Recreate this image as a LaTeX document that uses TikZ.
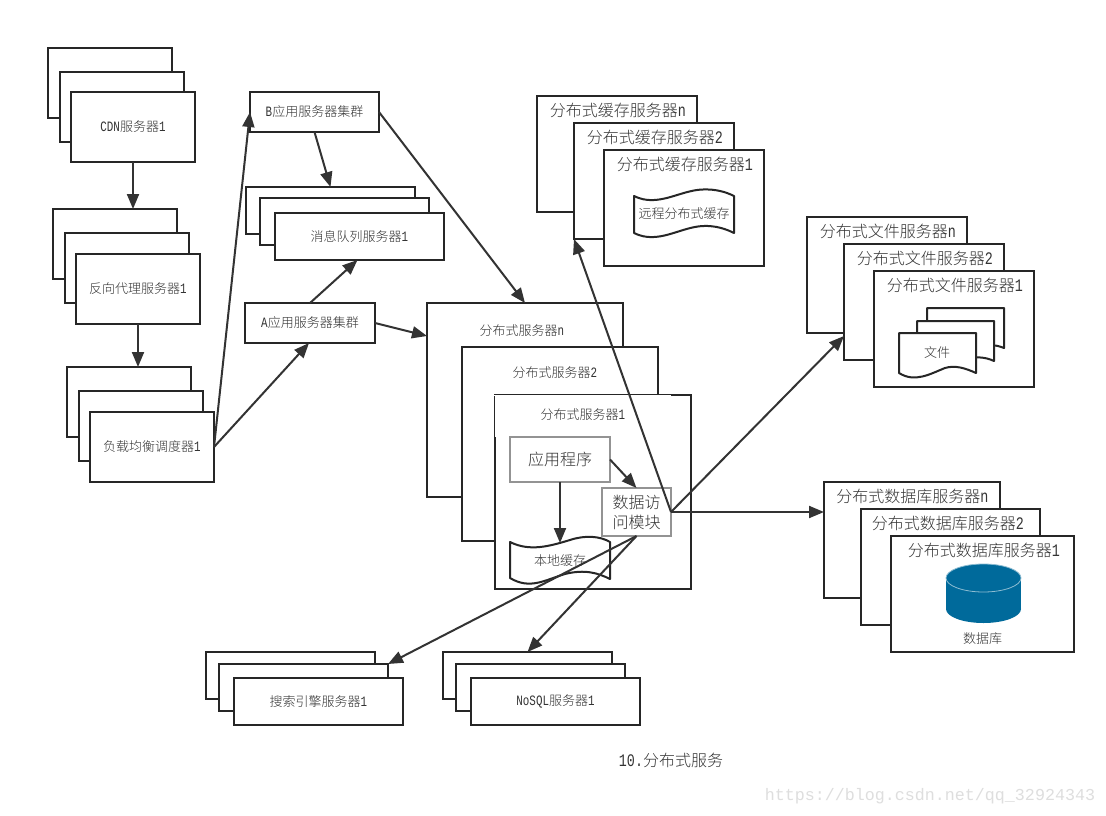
\documentclass[tikz,border=0pt]{standalone}
\usepackage{fontspec}
\usetikzlibrary{arrows.meta,calc}
\setmainfont{Noto Sans CJK SC}[UprightFont={* Light}]
\newfontfamily\lat{Liberation Mono}[Scale=1.1,FakeStretch=0.76]
\newcommand\Lt[1]{{\lat #1}}
\definecolor{ink}{HTML}{262626}
\definecolor{txt}{HTML}{333333}
\definecolor{arr}{HTML}{333333}
\definecolor{dbblue}{HTML}{006A9B}
\tikzset{
  box/.style={draw=ink,fill=white,line width=2pt,inner sep=0pt,outer sep=0pt,text=txt,align=center,font=\fontsize{13}{15}\selectfont},
  graybox/.style={box,draw=gray!85,font=\fontsize{16}{20}\selectfont},
  lab/.style={text=txt,inner sep=0pt,font=\fontsize{13}{15}\selectfont},
  biglab/.style={text=txt,inner sep=0pt,font=\fontsize{16}{18}\selectfont},
  wave/.style={draw=ink,fill=white,line width=2pt,line join=round},
  conn/.style={draw=arr,line width=2pt,-{Triangle[length=15pt,width=12pt]},shorten >=0pt},
}
\newcommand\bx[6][box]{\node[#1,minimum width={(#4)-(#2)},minimum height={(#5)-(#3)}] (#6) at ({((#2)+(#4))/2},{((#3)+(#5))/2}) {};}
\newcommand\bxt[7][box]{\node[#1,minimum width={(#4)-(#2)},minimum height={(#5)-(#3)}] (#6) at ({((#2)+(#4))/2},{((#3)+(#5))/2}) {#7};}
\begin{document}
\begin{tikzpicture}[x=1pt,y=-1pt]
\useasboundingbox[fill=white] (0,0) rectangle (1106,816);
% CDN
\bx{48}{48}{172}{118}{cdnC}
\bx{60}{72}{184}{142}{cdnB}
\bxt{71}{92}{195}{162}{cdn}{\Lt{CDN}服务器\Lt{1}}
% reverse proxy
\bx{53}{209}{177}{279}{revC}
\bx{65}{233}{189}{303}{revB}
\bxt{76}{254}{200}{324}{rev}{反向代理服务器\Lt{1}}
% load balancer
\bx{67}{367}{191}{437}{lbC}
\bx{79}{391}{203}{461}{lbB}
\bxt{90}{412}{214}{482}{lb}{负载均衡调度器\Lt{1}}
% app clusters
\bxt{250}{92}{379}{132}{bapp}{\Lt{B}应用服务器集群}
\bxt{245}{303}{375}{343}{aapp}{\Lt{A}应用服务器集群}
% message queue
\bx{246}{187}{415}{234}{mqC}
\bx{260}{198}{429}{245}{mqB}
\bxt{275}{213}{444}{260}{mq}{消息队列服务器\Lt{1}}
% cache servers
\bx{537}{96}{697}{212}{cacheC}
\node[biglab] (cacheCl) at (618,110) {分布式缓存服务器\Lt{n}};
\bx{574}{123}{734}{239}{cacheB}
\node[biglab] (cacheBl) at (655,137) {分布式缓存服务器\Lt{2}};
\bx{604}{150}{764}{266}{cacheA}
\node[biglab] (cacheAl) at (685,164) {分布式缓存服务器\Lt{1}};
\draw[wave] (634,196) .. controls (658,208) and (680,190) .. (703,189.5) .. controls (716,189) and (726,192) .. (734,196) -- (734,233) .. controls (726,229) and (716,225.5) .. (703,226) .. controls (680,227) and (658,245) .. (634,233) -- cycle;
\node[lab] (remote) at (684,214) {远程分布式缓存};
% file servers
\bx{807}{217}{967}{333}{fileC}
\node[biglab] (fileCl) at (888,231) {分布式文件服务器\Lt{n}};
\bx{844}{244}{1004}{360}{fileB}
\node[biglab] (fileBl) at (925,258) {分布式文件服务器\Lt{2}};
\bx{874}{271}{1034}{387}{fileA}
\node[biglab] (fileAl) at (955,285) {分布式文件服务器\Lt{1}};
\draw[wave] (927,308) -- (1004,308) -- (1004,348) .. controls (985,340) and (965,350) .. (945,353) -- (927,353) -- cycle;
\draw[wave] (917,321) -- (994,321) -- (994,361) .. controls (975,352) and (955,362) .. (935,366) -- (917,366) -- cycle;
\draw[wave] (899,333) -- (976,333) -- (976,373) .. controls (965,368) and (955,365) .. (945,368) .. controls (930,374) and (915,383) .. (899,373) -- cycle;
\node[lab] (filel) at (937,353) {文件};
% distributed servers
\bx{427}{303}{623}{497}{srvC}
\node[lab] (srvCl) at (522,331) {分布式服务器\Lt{n}};
\bx{462}{347}{658}{541}{srvB}
\node[lab] (srvBl) at (555,373) {分布式服务器\Lt{2}};
\bx{495}{395}{691}{589}{srvA}
\draw[white,line width=1pt] (494,395.5) -- (671,395.5);
\draw[white,line width=1pt] (495.5,396) -- (495.5,437);
\node[lab] (srvAl) at (583,415) {分布式服务器\Lt{1}};
\bxt[graybox]{510}{437}{610}{482}{appbox}{应用程序}
\bxt[graybox,line width=1.3pt]{602}{488}{671}{536}{dao}{数据访\\问模块}
\draw[wave] (510,542) .. controls (530,552) and (550,546) .. (570,540) .. controls (585,535) and (600,536) .. (610,542) -- (610,579) .. controls (598,573) and (585,569) .. (565,574) .. controls (545,580) and (530,590) .. (510,578) -- cycle;
\node[lab] (localc) at (560,561) {本地缓存};
\coordinate (localtop) at (560,543);
% database servers
\bx{824}{482}{1000}{598}{dbC}
\node[biglab] (dbCl) at (912.5,496) {分布式数据库服务器\Lt{n}};
\bx{861}{509}{1040}{625}{dbB}
\node[biglab] (dbBl) at (948,523) {分布式数据库服务器\Lt{2}};
\bx{891}{536}{1074}{652}{dbA}
\node[biglab] (dbAl) at (984,550) {分布式数据库服务器\Lt{1}};
\fill[dbblue] (946,578) rectangle (1021,609);
\fill[dbblue] (983.5,609) ellipse [x radius=37.5,y radius=14];
\draw[fill=dbblue,draw=dbblue!45!white,line width=0.8pt] (983.5,578) ellipse [x radius=37.5,y radius=14];
\node[lab] (dbl) at (982.5,639) {数据库};
% search, nosql
\bx{206}{652}{375}{699}{seC}
\bx{219}{664}{388}{711}{seB}
\bxt{234}{678}{403}{725}{se}{搜索引擎服务器\Lt{1}}
\bx{443}{652}{612}{699}{noC}
\bx{456}{664}{625}{711}{noB}
\bxt{471}{678}{640}{725}{no}{\Lt{NoSQL}服务器\Lt{1}}
% caption
\node[biglab,text=black!80] (cap) at (671,760) {\Lt{10.}分布式服务};
\node[inner sep=0pt,text=black!13,font=\fontsize{16.67}{18}\selectfont\fontspec{Liberation Mono}] (wm) at (930,796) {https://blog.csdn.net/qq\_32924343};
% connectors
\draw[conn] (cdn.south) -- (cdn.south |- revC.north);
\draw[conn] (rev.south) -- (rev.south |- lbC.north);
\draw[conn] (lb.east) -- (bapp.west);
\draw[conn] (lb.east) -- ([xshift=-1pt]aapp.south);
\draw[conn] (aapp.north) -- ([xshift=-2pt]mq.south);
\draw[conn] (bapp.south) -- (mqC.north);
\draw[conn] (bapp.east) -- (srvC.north);
\draw[conn] (aapp.east) -- ([yshift=64pt]srvC.west);
\draw[conn] (appbox.south) -- (localtop);
\draw[conn] (appbox.east) -- (dao.north);
\draw[conn] (dao.east) -- (cacheB.south west);
\draw[conn] (dao.east) -- ([yshift=-34pt]fileB.west);
\draw[conn] (dao.east) -- (dao.east -| dbC.west);
\draw[conn] (dao.south) -- (seB.north east);
\draw[conn] (dao.south) -- (noC.north);
\end{tikzpicture}
\end{document}
